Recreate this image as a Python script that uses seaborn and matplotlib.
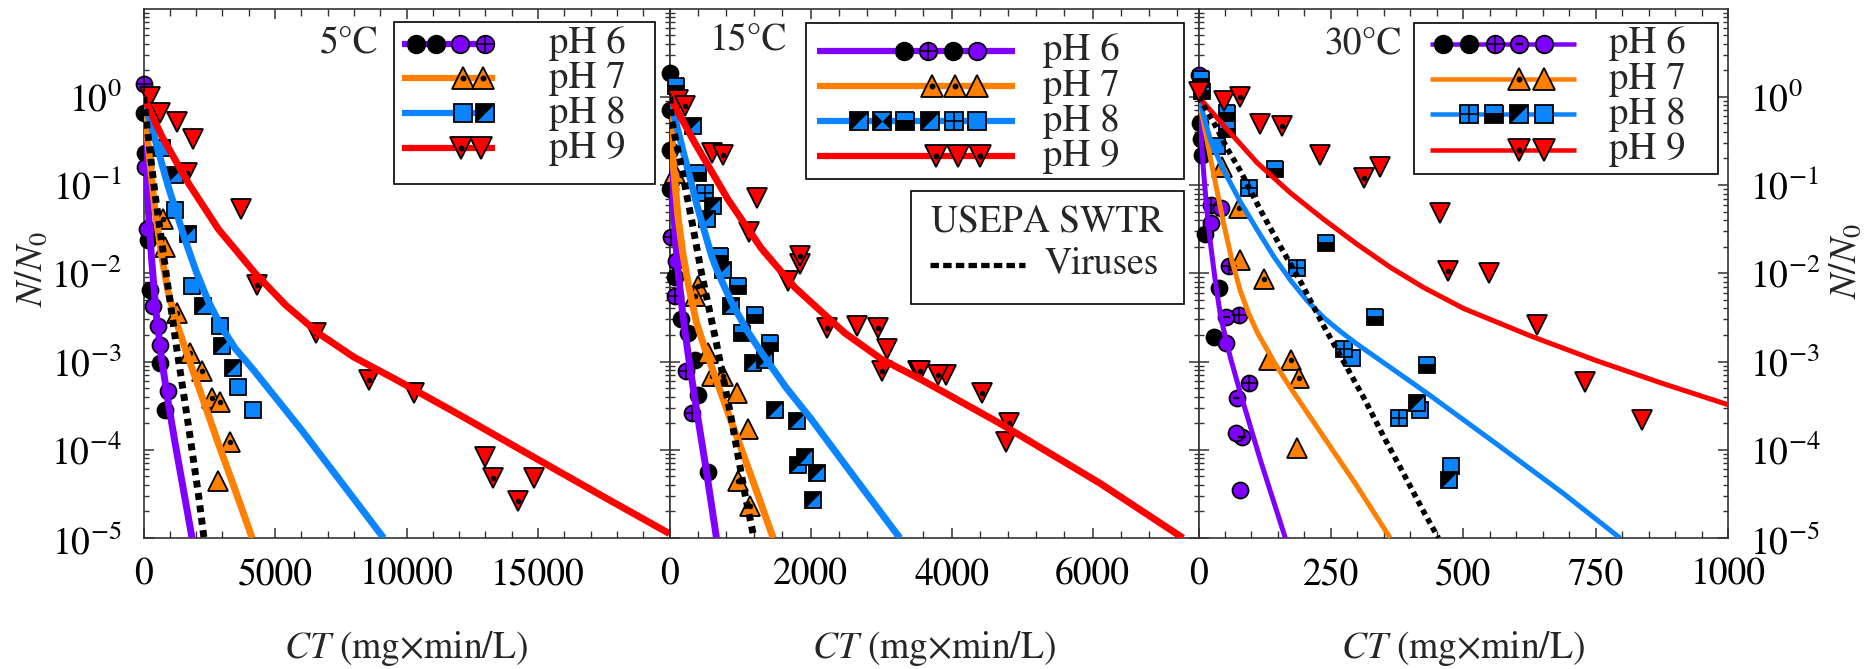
import matplotlib
matplotlib.use("Agg")
import matplotlib.pyplot as plt
from matplotlib.patches import Rectangle
from matplotlib.ticker import FixedLocator, MultipleLocator, LogLocator, NullFormatter
import seaborn as sns

# ─────────────────────────────────────────────
# Colours
# ─────────────────────────────────────────────
PURPLE = "#7f00ff"
ORANGE = "#ff8000"
BLUE = "#0a84ff"
RED = "#ff0000"

# ─────────────────────────────────────────────
# 5 °C panel
# ─────────────────────────────────────────────
T5_FIT_PH6_CT = [0, 60, 121, 200, 311, 480, 692, 950, 1199, 1846]
T5_FIT_PH6_N = [1.0, 0.33, 0.126, 0.0447, 0.0141, 3.55e-3, 1.05e-3, 3.3e-4, 1.2e-4, 1e-5]
T5_FIT_PH7_CT = [0, 200, 438, 700, 944, 1250, 1580, 2200, 2847, 3500, 4130]
T5_FIT_PH7_N = [1.0, 0.24, 0.052, 0.0151, 6.0e-3, 2.8e-3, 1.41e-3, 4.2e-4, 1.17e-4, 3.4e-5, 1e-5]
T5_FIT_PH8_CT = [0, 500, 944, 1580, 2000, 2467, 2950, 3483, 4200, 5000, 6020, 7500, 9130]
T5_FIT_PH8_N = [1.0, 0.282, 0.0955, 0.024, 0.0105, 4.8e-3, 2.5e-3, 1.41e-3, 7.9e-4, 3.98e-4,
                1.66e-4, 4.37e-5, 1e-5]
T5_FIT_PH9_CT = [0, 700, 1706, 2847, 4244, 5400, 6653, 8000, 9572, 12000, 14585, 17300, 20000]
T5_FIT_PH9_N = [1.0, 0.355, 0.105, 0.0316, 0.010, 4.37e-3, 2.09e-3, 1.12e-3, 6.3e-4, 2.5e-4,
                9.1e-5, 3.16e-5, 1.12e-5]
T5_VIRUS_CT = [0, 247, 438, 883, 1263, 1706, 2086, 2300]
T5_VIRUS_N = [1.0, 0.24, 0.079, 8.9e-3, 1.41e-3, 1.9e-4, 3.16e-5, 1e-5]

T5_PH6_BLACK_CT = [20, 57, 183, 247, 628, 818]
T5_PH6_BLACK_N = [0.66, 0.23, 0.024, 6.5e-3, 9.5e-4, 2.8e-4]
T5_PH6_FILL_CT = [50, 121, 374, 564, 628, 944]
T5_PH6_FILL_N = [0.16, 0.032, 4.2e-3, 2.5e-3, 1.55e-3, 4.6e-4]
T5_PH6_CROSS_CT = [20]
T5_PH6_CROSS_N = [1.38]
T5_PH7_FILL_CT = [818, 2847]
T5_PH7_FILL_N = [0.020, 4.4e-5]
T5_PH7_DOT_CT = [754, 1263, 1770, 2215, 2596, 2912, 3292]
T5_PH7_DOT_N = [0.041, 3.5e-3, 1.26e-3, 7.8e-4, 3.9e-4, 3.5e-4, 1.23e-4]
T5_PH8_FILL_CT = [692, 1199, 1833, 2912, 3608, 4179]
T5_PH8_FILL_N = [0.26, 0.052, 7.1e-3, 2.5e-3, 5.2e-4, 2.8e-4]
T5_PH8_DIAG_CT = [1199, 1706, 2276, 2976, 3418]
T5_PH8_DIAG_N = [0.13, 0.0275, 4.2e-3, 1.48e-3, 8.5e-4]
T5_PH9_FILL_CT = [250, 628, 1263, 1896, 3710, 10270, 12970, 14836]
T5_PH9_FILL_N = [1.0, 0.66, 0.52, 0.33, 0.054, 4.4e-4, 8.3e-5, 4.8e-5]
T5_PH9_DOT_CT = [1643, 4308, 6565, 8557, 13275, 14240]
T5_PH9_DOT_N = [0.138, 7.4e-3, 2.1e-3, 6.2e-4, 4.8e-5, 2.6e-5]

# ─────────────────────────────────────────────
# 15 °C panel
# ─────────────────────────────────────────────
T15_FIT_PH6_CT = [0, 20, 40, 75, 120, 194, 270, 359, 525, 666]
T15_FIT_PH6_N = [1.0, 0.316, 0.12, 0.0316, 0.0107, 3.16e-3, 1.12e-3, 3.8e-4, 5.6e-5, 1e-5]
T15_FIT_PH7_CT = [0, 60, 123, 190, 265, 380, 501, 660, 832, 1000, 1163, 1470]
T15_FIT_PH7_N = [1.0, 0.151, 0.0417, 0.0166, 7.6e-3, 2.8e-3, 1.41e-3, 6.3e-4, 2.6e-4, 1.12e-4,
                 4.9e-5, 1e-5]
T15_FIT_PH8_CT = [0, 200, 400, 596, 680, 750, 879, 1100, 1305, 1650, 2014, 2723, 3266]
T15_FIT_PH8_N = [1.0, 0.229, 0.055, 0.0158, 0.0105, 7.9e-3, 4.7e-3, 2.24e-3, 1.26e-3, 5.1e-4,
                 2.2e-4, 3.8e-5, 1e-5]
T15_FIT_PH9_CT = [0, 359, 832, 1305, 1777, 2486, 3000, 3573, 4679, 6097, 7280]
T15_FIT_PH9_N = [1.0, 0.30, 0.068, 0.019, 6.9e-3, 2.1e-3, 1.07e-3, 6.2e-4, 2.0e-4, 4.2e-5, 1e-5]
T15_VIRUS_CT = [0, 28, 146, 312, 454, 666, 879, 1068, 1187]
T15_VIRUS_N = [1.0, 0.55, 0.195, 0.041, 0.010, 1.6e-3, 2.2e-4, 3.2e-5, 1.1e-5]

T15_PH6_BLACK_CT = [5, 10, 5, 5, 75, 170, 265, 359, 407, 548]
T15_PH6_BLACK_N = [1.86, 0.7, 0.25, 0.089, 9.1e-3, 3.0e-3, 2.1e-3, 1.05e-3, 4.2e-4, 5.6e-5]
T15_PH6_CROSS_CT = [28, 75, 241, 312]
T15_PH6_CROSS_N = [0.026, 5.5e-3, 7.8e-4, 2.6e-4]
T15_PH6_FILL_CT = [99]
T15_PH6_FILL_N = [0.0138]
T15_PH7_FILL_CT = [75, 548, 950, 1116]
T15_PH7_FILL_N = [0.138, 1.26e-3, 4.4e-4, 1.7e-4]
T15_PH7_DOT_CT = [407, 359, 596, 761, 974, 1139]
T15_PH7_DOT_N = [7.1e-3, 5.5e-3, 6.8e-4, 6.8e-4, 4.4e-5, 2.3e-5]
T15_PH8_HALF_CT = [99, 407, 714, 974, 1210, 1021, 1422]
T15_PH8_HALF_N = [1.32, 0.138, 0.0155, 7.1e-3, 3.4e-3, 2.1e-3, 1.6e-3]
T15_PH8_CROSS_CT = [501]
T15_PH8_CROSS_N = [0.081]
T15_PH8_DIAG_CT = [336, 620, 525, 761, 879, 1187, 1351, 1493, 1801, 1825, 1919, 2085, 2038]
T15_PH8_DIAG_N = [0.47, 0.058, 0.041, 0.011, 4.2e-3, 9.5e-4, 1.05e-3, 2.8e-4, 2.1e-4,
                  6.8e-5, 8.3e-5, 5.4e-5, 2.7e-5]
T15_PH9_FILL_CT = [123, 596, 1234, 1125, 1848, 1683, 2652, 3077, 3526, 3924, 4775]
T15_PH9_FILL_N = [0.93, 0.23, 0.071, 0.029, 0.0126, 8.1e-3, 2.5e-3, 1.4e-3, 7.8e-4, 7.1e-4, 1.23e-4]
T15_PH9_DOT_CT = [217, 761, 1848, 2236, 2959, 3016, 3545, 3805, 4434, 4811]
T15_PH9_DOT_N = [0.78, 0.22, 0.0155, 2.4e-3, 2.4e-3, 7.8e-4, 7.8e-4, 7.1e-4, 4.4e-4, 2.0e-4]

# ─────────────────────────────────────────────
# 30 °C panel
# ─────────────────────────────────────────────
T30_FIT_PH6_CT = [0, 5, 10, 16, 23, 32, 42, 60, 79, 117, 164]
T30_FIT_PH6_N = [1.0, 0.355, 0.132, 0.050, 0.0209, 7.9e-3, 3.16e-3, 1.12e-3, 4.4e-4, 7.6e-5, 1e-5]
T30_FIT_PH7_CT = [0, 23, 48, 63, 79, 95, 111, 142, 174, 236, 299, 362]
T30_FIT_PH7_N = [1.0, 0.195, 0.0355, 0.0141, 6.3e-3, 3.47e-3, 2.14e-3, 1.0e-3, 5.0e-4, 1.41e-4,
                 3.9e-5, 1e-5]
T30_FIT_PH8_CT = [0, 23, 48, 79, 111, 142, 174, 205, 236, 268, 299, 394, 438, 564, 689, 796]
T30_FIT_PH8_N = [1.0, 0.316, 0.145, 0.0646, 0.0309, 0.0155, 8.3e-3, 4.9e-3, 3.16e-3, 2.19e-3,
                 1.58e-3, 6.3e-4, 4.1e-4, 1.15e-4, 3.2e-5, 1e-5]
T30_FIT_PH9_CT = [0, 48, 111, 174, 236, 299, 362, 425, 501, 627, 752, 878, 1000]
T30_FIT_PH9_N = [1.0, 0.47, 0.178, 0.081, 0.041, 0.0214, 0.0117, 6.9e-3, 3.98e-3, 1.95e-3,
                 1.02e-3, 5.6e-4, 3.24e-4]
T30_VIRUS_CT = [0, 32, 54, 79, 117, 155, 196, 233, 274, 312, 350, 387, 425, 453]
T30_VIRUS_N = [1.0, 0.47, 0.26, 0.145, 0.052, 0.020, 7.4e-3, 2.75e-3, 1.0e-3, 3.9e-4,
               1.4e-4, 5.4e-5, 2.0e-5, 1e-5]

T30_PH6_BLACK_CT = [3, 4, 7, 13, 38, 29]
T30_PH6_BLACK_N = [0.5, 0.33, 0.22, 0.028, 6.8e-3, 1.9e-3]
T30_PH6_CROSS_CT = [23, 57, 76, 95]
T30_PH6_CROSS_N = [0.060, 0.012, 3.4e-3, 5.75e-4]
T30_PH6_BAR_CT = [51, 73, 82]
T30_PH6_BAR_N = [3.2e-3, 3.9e-4, 1.4e-4]
T30_PH6_FILL_CT = [1, 42, 23, 51, 70, 79]
T30_PH6_FILL_N = [1.78, 0.055, 0.037, 1.6e-3, 1.55e-4, 3.5e-5]
T30_PH7_FILL_CT = [79, 133, 186]
T30_PH7_FILL_N = [0.014, 1.05e-3, 1.05e-4]
T30_PH7_DOT_CT = [45, 76, 123, 174, 189]
T30_PH7_DOT_N = [0.16, 0.055, 8.5e-3, 1.05e-3, 6.5e-4]
T30_PH8_FILL_CT = [35, 290, 419, 477]
T30_PH8_FILL_N = [0.275, 1.1e-3, 2.8e-4, 6.5e-5]
T30_PH8_HALF_CT = [4, 7, 54, 54, 145, 240, 334, 432]
T30_PH8_HALF_N = [1.58, 1.15, 0.66, 0.43, 0.15, 0.022, 3.2e-3, 9.1e-4]
T30_PH8_CROSS_CT = [95, 186, 274, 378]
T30_PH8_CROSS_N = [0.093, 0.0115, 1.4e-3, 2.3e-4]
T30_PH8_DIAG_CT = [413, 474]
T30_PH8_DIAG_N = [3.4e-4, 4.6e-5]
T30_PH9_FILL_CT = [0, 48, 117, 230, 342, 457, 548, 639, 730, 837]
T30_PH9_FILL_N = [1.12, 0.89, 0.49, 0.22, 0.16, 0.048, 0.010, 2.6e-3, 5.9e-4, 2.2e-4]
T30_PH9_DOT_CT = [79, 158, 312, 471]
T30_PH9_DOT_N = [1.0, 0.47, 0.12, 0.0105]

PH_LABELS = ["pH 6", "pH 7", "pH 8", "pH 9"]
PH_COLORS = [PURPLE, ORANGE, BLUE, RED]
PH_SHAPES = ["o", "^", "s", "v"]
TEMP_LABELS = ["5°C", "15°C", "30°C"]
XTICKS = [[0, 5000, 10000, 15000], [0, 2000, 4000, 6000], [0, 250, 500, 750, 1000]]
XMAX = [20000, 7500, 1000]
XMINOR = [1000, 400, 50]


def draw_marks(ax, ct, n, shape, color, kind, ms, transform=None, z=3):
    """Draw one group of symbols; some kinds get a black overlay."""
    base = dict(linestyle="none", marker=shape, markersize=ms, markeredgecolor="black",
                markeredgewidth=1.3, clip_on=False, zorder=z)
    if transform is not None:
        base["transform"] = transform
    if kind == "black":
        ax.plot(ct, n, markerfacecolor="black", **base)
    elif kind == "half":
        ax.plot(ct, n, fillstyle="top", markerfacecolor=color,
                markerfacecoloralt="black", **base)
    else:
        ax.plot(ct, n, markerfacecolor=color, **base)

    over = dict(base, zorder=z + 0.1)
    if kind == "diag":
        over.update(marker=[(-1, 1), (1, 1), (-1, -1)], markerfacecolor="black", markeredgewidth=0)
    elif kind == "bowtie":
        over.update(marker=[(-1, 1), (0, 0), (1, 1), (1, -1), (0, 0), (-1, -1)],
                    markerfacecolor="black", markeredgewidth=0)
    elif kind == "cross":
        over.update(marker="+", markersize=ms * 0.95, markeredgewidth=1.2)
    elif kind == "bar":
        over.update(marker="_", markersize=ms * 0.5, markeredgewidth=1.6)
    elif kind == "dot":
        over.update(marker="o", markersize=ms * 0.28, markerfacecolor="black", markeredgewidth=0)
    else:
        return
    ax.plot(ct, n, **over)


def draw_fit(ax, ct, n, color, lw, dotted=False):
    kw = dict(color=color, linewidth=lw, estimator=None, sort=False, legend=False, zorder=4)
    if dotted:
        kw.update(linestyle=(0, (1.0, 0.8)), dash_capstyle="butt")
    else:
        kw.update(solid_capstyle="butt")
    sns.lineplot(x=ct, y=n, ax=ax, **kw)


def draw_key(ax, box, line_x, rows_y, text_x, marks, scale, lw, fs):
    """Hand-made key: long coloured line with sample symbols, label on the right."""
    x0, y0, x1, y1 = box
    ax.add_patch(Rectangle((x0, y0), x1 - x0, y1 - y0, transform=ax.transAxes,
                           facecolor="white", edgecolor="black", lw=1.2, zorder=6, clip_on=False))
    for i, y in enumerate(rows_y):
        ax.plot(line_x, [y, y], transform=ax.transAxes, color=PH_COLORS[i], lw=lw,
                solid_capstyle="butt", zorder=7, clip_on=False)
        for mx, kind in marks[i]:
            draw_marks(ax, [mx], [y], PH_SHAPES[i], PH_COLORS[i], kind,
                       MS[PH_SHAPES[i]] * scale, transform=ax.transAxes, z=8)
        ax.text(text_x, y, PH_LABELS[i], transform=ax.transAxes, fontsize=fs,
                va="center", ha="left", zorder=9)


sns.set_theme(style="ticks")
plt.rcParams["font.family"] = ["STIXGeneral", "Liberation Serif", "DejaVu Serif"]
plt.rcParams["mathtext.fontset"] = "stix"

fig = plt.figure(figsize=(18.76, 6.69), dpi=100)
lefts = [143.5 / 1876, 669.5 / 1876, 1198.5 / 1876]
widths = [526 / 1876, 529 / 1876, 529.5 / 1876]
bottom, height = 1 - 538 / 669, 529.5 / 669
axes = [fig.add_axes([l, bottom, w, height]) for l, w in zip(lefts, widths)]

fits = [
    [(T5_FIT_PH6_CT, T5_FIT_PH6_N), (T5_FIT_PH7_CT, T5_FIT_PH7_N),
     (T5_FIT_PH8_CT, T5_FIT_PH8_N), (T5_FIT_PH9_CT, T5_FIT_PH9_N)],
    [(T15_FIT_PH6_CT, T15_FIT_PH6_N), (T15_FIT_PH7_CT, T15_FIT_PH7_N),
     (T15_FIT_PH8_CT, T15_FIT_PH8_N), (T15_FIT_PH9_CT, T15_FIT_PH9_N)],
    [(T30_FIT_PH6_CT, T30_FIT_PH6_N), (T30_FIT_PH7_CT, T30_FIT_PH7_N),
     (T30_FIT_PH8_CT, T30_FIT_PH8_N), (T30_FIT_PH9_CT, T30_FIT_PH9_N)],
]
viruses = [(T5_VIRUS_CT, T5_VIRUS_N), (T15_VIRUS_CT, T15_VIRUS_N), (T30_VIRUS_CT, T30_VIRUS_N)]

# (ct, n, pH index, kind)
points = [
    [(T5_PH6_BLACK_CT, T5_PH6_BLACK_N, 0, "black"), (T5_PH6_FILL_CT, T5_PH6_FILL_N, 0, "plain"),
     (T5_PH6_CROSS_CT, T5_PH6_CROSS_N, 0, "cross"), (T5_PH7_FILL_CT, T5_PH7_FILL_N, 1, "plain"),
     (T5_PH7_DOT_CT, T5_PH7_DOT_N, 1, "dot"), (T5_PH8_FILL_CT, T5_PH8_FILL_N, 2, "plain"),
     (T5_PH8_DIAG_CT, T5_PH8_DIAG_N, 2, "diag"), (T5_PH9_FILL_CT, T5_PH9_FILL_N, 3, "plain"),
     (T5_PH9_DOT_CT, T5_PH9_DOT_N, 3, "dot")],
    [(T15_PH6_BLACK_CT, T15_PH6_BLACK_N, 0, "black"), (T15_PH6_CROSS_CT, T15_PH6_CROSS_N, 0, "cross"),
     (T15_PH6_FILL_CT, T15_PH6_FILL_N, 0, "plain"), (T15_PH7_FILL_CT, T15_PH7_FILL_N, 1, "plain"),
     (T15_PH7_DOT_CT, T15_PH7_DOT_N, 1, "dot"), (T15_PH8_HALF_CT, T15_PH8_HALF_N, 2, "half"),
     (T15_PH8_CROSS_CT, T15_PH8_CROSS_N, 2, "cross"), (T15_PH8_DIAG_CT, T15_PH8_DIAG_N, 2, "diag"),
     (T15_PH9_FILL_CT, T15_PH9_FILL_N, 3, "plain"), (T15_PH9_DOT_CT, T15_PH9_DOT_N, 3, "dot")],
    [(T30_PH6_BLACK_CT, T30_PH6_BLACK_N, 0, "black"), (T30_PH6_CROSS_CT, T30_PH6_CROSS_N, 0, "cross"),
     (T30_PH6_BAR_CT, T30_PH6_BAR_N, 0, "bar"), (T30_PH6_FILL_CT, T30_PH6_FILL_N, 0, "plain"),
     (T30_PH7_FILL_CT, T30_PH7_FILL_N, 1, "plain"), (T30_PH7_DOT_CT, T30_PH7_DOT_N, 1, "dot"),
     (T30_PH8_FILL_CT, T30_PH8_FILL_N, 2, "plain"), (T30_PH8_HALF_CT, T30_PH8_HALF_N, 2, "half"),
     (T30_PH8_CROSS_CT, T30_PH8_CROSS_N, 2, "cross"), (T30_PH8_DIAG_CT, T30_PH8_DIAG_N, 2, "diag"),
     (T30_PH9_FILL_CT, T30_PH9_FILL_N, 3, "plain"), (T30_PH9_DOT_CT, T30_PH9_DOT_N, 3, "dot")],
]

# marker sizes per shape (pt) and line widths per panel
MS = {"o": 11.5, "^": 14, "s": 12, "v": 14}
FIT_LW = [5.0, 5.0, 3.6]
VIRUS_LW = [5.0, 5.0, 4.0]

# key layout (axes fractions)
KEYS = [
    dict(box=(0.476, 0.669, 0.973, 0.975), line_x=(0.491, 0.668),
         rows_y=[0.933, 0.868, 0.802, 0.736], text_x=0.770,
         marks=[[(0.519, "black"), (0.557, "black"), (0.602, "plain"), (0.649, "cross")],
                [(0.608, "dot"), (0.646, "dot")],
                [(0.608, "plain"), (0.649, "diag")],
                [(0.604, "dot"), (0.642, "plain")]],
         temp=(0.446, 0.935)),
    dict(box=(0.258, 0.678, 0.9735, 0.972), line_x=(0.278, 0.6526),
         rows_y=[0.920, 0.853, 0.787, 0.721], text_x=0.706,
         marks=[[(0.444, "black"), (0.488, "cross"), (0.535, "black"), (0.581, "plain")],
                [(0.496, "dot"), (0.540, "dot"), (0.581, "plain")],
                [(0.358, "diag"), (0.402, "bowtie"), (0.446, "half"), (0.492, "diag"),
                 (0.537, "cross"), (0.581, "plain")],
                [(0.503, "dot"), (0.545, "plain"), (0.587, "dot")]],
         temp=(0.222, 0.9395)),
    dict(box=(0.407, 0.687, 0.981, 0.972), line_x=(0.437, 0.7126),
         rows_y=[0.933, 0.866, 0.800, 0.733], text_x=0.775,
         marks=[[(0.462, "black"), (0.511, "black"), (0.560, "cross"), (0.606, "bar"),
                 (0.652, "plain")],
                [(0.606, "dot"), (0.652, "plain")],
                [(0.511, "cross"), (0.559, "half"), (0.606, "diag"), (0.652, "plain")],
                [(0.606, "dot"), (0.652, "plain")]],
         temp=(0.384, 0.931)),
]

for p, ax in enumerate(axes):
    for (ct, n, k, kind) in points[p]:
        draw_marks(ax, ct, n, PH_SHAPES[k], PH_COLORS[k], kind, MS[PH_SHAPES[k]])
    for k, (ct, n) in enumerate(fits[p]):
        draw_fit(ax, ct, n, PH_COLORS[k], FIT_LW[p])
    draw_fit(ax, viruses[p][0], viruses[p][1], "black", VIRUS_LW[p], dotted=True)

    ax.set_yscale("log")
    ax.set_ylim(1e-5, 10)
    ax.set_xlim(0, XMAX[p])
    ax.yaxis.set_major_locator(FixedLocator([1e-5, 1e-4, 1e-3, 1e-2, 1e-1, 1e0]))
    ax.yaxis.set_minor_locator(LogLocator(base=10, subs=range(2, 10), numticks=20))
    ax.yaxis.set_minor_formatter(NullFormatter())
    ax.xaxis.set_major_locator(FixedLocator(XTICKS[p]))
    ax.xaxis.set_minor_locator(MultipleLocator(XMINOR[p]))
    ax.set_xticklabels([str(t) for t in XTICKS[p]])
    ax.set_xlabel("")
    ax.set_ylabel("")

    ax.tick_params(which="both", direction="in", top=True, right=True, colors="#333333",
                   labelcolor="black", labelsize=27)
    ax.tick_params(which="major", length=7, width=1.1)
    ax.tick_params(axis="x", which="minor", length=5, width=1.0)
    ax.tick_params(axis="y", which="minor", length=3.5, width=1.0)
    ax.tick_params(axis="x", pad=14)
    ax.tick_params(axis="y", labelleft=(p == 0), labelright=(p == 2), pad=16)
    for s in ax.spines.values():
        s.set_color("#333333")
        s.set_linewidth(1.2)

    key = KEYS[p]
    draw_key(ax, key["box"], key["line_x"], key["rows_y"], key["text_x"], key["marks"],
             scale=1.1, lw=FIT_LW[p] * 0.9, fs=28)
    ax.text(key["temp"][0], key["temp"][1], TEMP_LABELS[p], transform=ax.transAxes,
            fontsize=27, ha="right", va="center", zorder=9)

    fig.text(lefts[p] + widths[p] / 2, 1 - 648 / 669, "$CT$ (mg×min/L)",
             fontsize=27, ha="center", va="center")

# USEPA SWTR key in the 15 °C panel
ax = axes[1]
ax.add_patch(Rectangle((0.456, 0.442), 0.9735 - 0.456, 0.656 - 0.442, transform=ax.transAxes,
                       facecolor="white", edgecolor="black", lw=1.2, zorder=6, clip_on=False))
ax.text(0.714, 0.597, "USEPA SWTR", transform=ax.transAxes, fontsize=27,
        ha="center", va="center", zorder=9)
ax.plot([0.492, 0.672], [0.5165, 0.5165], transform=ax.transAxes, color="black", lw=3.8,
        linestyle=(0, (1.6, 0.8)), dash_capstyle="butt", zorder=7, clip_on=False)
ax.text(0.708, 0.5165, "Viruses", transform=ax.transAxes, fontsize=27,
        ha="left", va="center", zorder=9)

fig.text(32 / 1876, 1 - 269 / 669, "$N/N_0$", fontsize=27, rotation=90,
         ha="center", va="center")
fig.text(1846 / 1876, 1 - 261 / 669, "$N/N_0$", fontsize=27, rotation=90,
         ha="center", va="center")

fig.savefig("out.png", dpi=100)
